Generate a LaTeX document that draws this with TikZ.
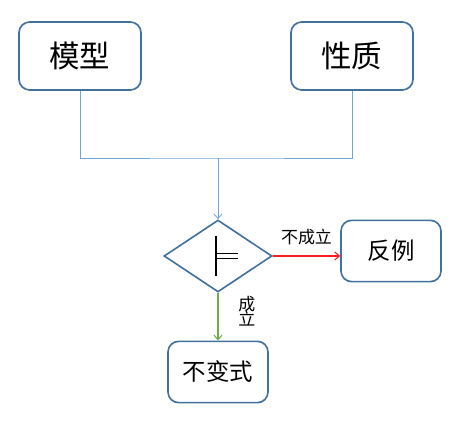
\documentclass[tikz,border=0pt]{standalone}
\usepackage{fontspec}
\newfontfamily\cjk{Noto Sans CJK SC}
\usetikzlibrary{shapes.geometric,arrows.meta}

\definecolor{bord}{RGB}{65,113,156}
\definecolor{lien}{RGB}{110,165,218}
\definecolor{rouge}{RGB}{250,30,30}
\definecolor{vert}{RGB}{112,173,71}

\tikzset{
  boite/.style={draw=bord, line width=1.4pt, rounded corners=0.32cm, fill=white, inner sep=0pt},
  grande/.style={boite, minimum width=3.66cm, minimum height=2.04cm, font=\cjk\fontsize{26}{28}\selectfont},
  petite/.style={boite, minimum width=3.0cm, minimum height=1.84cm, font=\cjk\fontsize{20}{22}\selectfont},
  losange/.style={diamond, draw=bord, line width=1.4pt, inner sep=0pt, minimum width=3.24cm, minimum height=2.16cm},
  etiq/.style={font=\cjk\fontsize{14.5}{16}\selectfont, inner sep=1pt},
  fleche/.style={-{Straight Barb[length=4pt,width=7pt]}, line width=0.9pt}
}

\begin{document}
\begin{tikzpicture}[x=0.03cm,y=-0.03cm]
\useasboundingbox (0,0) rectangle (464,426);

%les boites
\node[grande] (modele) at (80,56) {模型};
\node[grande] (prop) at (352,56) {性质};
\node[losange] (test) at (218,256) {};
\node[petite] (contre) at (391,251) {反例};
\node[petite] (inv) at (218,372) {不变式};

%symbole dans le losange
\draw[line width=1.3pt] ([xshift=-0.06cm,yshift=0.6cm]test.center) -- ([xshift=-0.06cm,yshift=-0.6cm]test.center);
\draw[line width=1pt] ([xshift=-0.06cm,yshift=0.08cm]test.center) -- ([xshift=0.6cm,yshift=0.08cm]test.center);
\draw[line width=1pt] ([xshift=-0.06cm,yshift=-0.08cm]test.center) -- ([xshift=0.6cm,yshift=-0.08cm]test.center);

%liens du haut
\coordinate (jonc) at (218,158);
\draw[lien, line width=0.7pt] (modele.south) |- (jonc) -| (prop.south);
\draw[lien, fleche, line width=0.7pt] (jonc) -- (test.north);

%sorties
\draw[rouge, fleche] (test.east) -- node[etiq, black, above=8pt] (non) {不成立} (test.east -| contre.west);
\draw[vert, fleche] (test.south) -- node[etiq, black, right=16pt, align=center, pos=0.38] (oui) {成\\[-3pt]立} (inv.north);

\end{tikzpicture}
\end{document}
